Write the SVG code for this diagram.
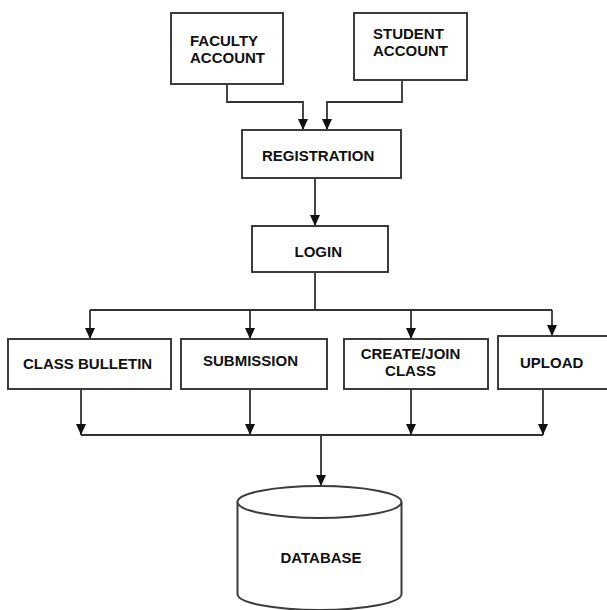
<svg xmlns="http://www.w3.org/2000/svg" width="607" height="610" viewBox="0 0 607 610">
  <defs>
    <marker id="arrow" viewBox="0 0 11 10" refX="11" refY="5" markerWidth="11" markerHeight="10" markerUnits="userSpaceOnUse" orient="auto">
      <path d="M0,0 L11,5 L0,10 Z" fill="#111"/>
    </marker>
    <style>
      .box { fill: #fff; stroke: #3c3c3c; stroke-width: 2; }
      .link { fill: none; stroke: #333; stroke-width: 1.8; }
      .arr { marker-end: url(#arrow); }
      .lbl { font-family: "Liberation Sans", Arial, sans-serif; font-size: 15px; font-weight: bold; fill: #111; }
      .mid { text-anchor: middle; }
    </style>
  </defs>
  <rect width="607" height="610" fill="#fff"/>

  <!-- connectors -->
  <g id="connectors">
    <path class="link arr" d="M227,84 V102 H303 V130"/>
    <path class="link arr" d="M402,80 V102 H327 V130"/>
    <path class="link arr" d="M315,178 V226"/>
    <path class="link" d="M315,272 V310 M90,310 H552"/>
    <path class="link arr" d="M90,310 V339"/>
    <path class="link arr" d="M250,310 V339"/>
    <path class="link arr" d="M411,310 V339"/>
    <path class="link arr" d="M552,310 V336"/>
    <path class="link arr" d="M81,389 V435"/>
    <path class="link arr" d="M250,389 V435"/>
    <path class="link arr" d="M411,389 V435"/>
    <path class="link arr" d="M543,389 V435"/>
    <path class="link" d="M81,435 H543"/>
    <path class="link arr" d="M321,435 V486"/>
  </g>

  <g id="faculty-account">
    <rect class="box" x="171" y="13" width="112" height="71"/>
    <text class="lbl" x="190" y="45.5">FACULTY</text>
    <text class="lbl" x="190" y="62.5">ACCOUNT</text>
  </g>

  <g id="student-account">
    <rect class="box" x="354" y="13" width="113" height="67"/>
    <text class="lbl" x="373" y="39">STUDENT</text>
    <text class="lbl" x="373" y="56">ACCOUNT</text>
  </g>

  <g id="registration">
    <rect class="box" x="242" y="130" width="159" height="48"/>
    <text class="lbl" x="262" y="161">REGISTRATION</text>
  </g>

  <g id="login">
    <rect class="box" x="252" y="226" width="136" height="46"/>
    <text class="lbl" x="294.5" y="257">LOGIN</text>
  </g>

  <g id="class-bulletin">
    <rect class="box" x="8" y="339" width="163" height="50"/>
    <text class="lbl" x="23" y="369">CLASS BULLETIN</text>
  </g>

  <g id="submission">
    <rect class="box" x="181" y="339" width="146" height="50"/>
    <text class="lbl" x="203" y="366">SUBMISSION</text>
  </g>

  <g id="create-join-class">
    <rect class="box" x="344" y="339" width="144" height="50"/>
    <text class="lbl mid" x="410.5" y="359">CREATE/JOIN</text>
    <text class="lbl mid" x="410.5" y="376">CLASS</text>
  </g>

  <g id="upload">
    <rect class="box" x="498" y="336" width="110" height="53"/>
    <text class="lbl" x="520" y="368">UPLOAD</text>
  </g>

  <!-- cylinder store -->
  <g id="database">
    <path class="box" d="M237.5,502 V594 A82,16 0 0 0 401.5,594 V502"/>
    <ellipse class="box" cx="319.5" cy="502" rx="82" ry="16"/>
    <text class="lbl" x="280.5" y="563">DATABASE</text>
  </g>
</svg>
